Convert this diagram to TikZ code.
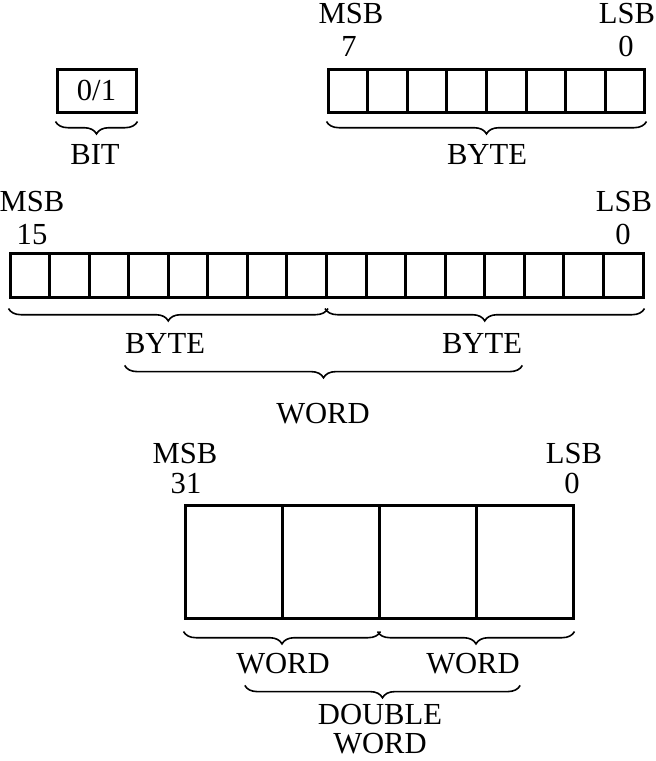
\documentclass[tikz,border=0pt]{standalone}
\usepackage{fontspec}
\setmainfont{Liberation Serif}
\usetikzlibrary{decorations.pathreplacing,calc}

\tikzset{
    regcell/.style={draw, line width=1.5pt, inner sep=0pt},
    brc/.style={decorate, decoration={brace, mirror, amplitude=6.2pt}, line width=0.8pt},
    lbl/.style={inner sep=0pt, text height=10pt, text depth=0pt, font=\fontsize{15.3}{15}\selectfont}
}

\begin{document}
\begin{tikzpicture}[x=0.5pt,y=-0.5pt]
    \useasboundingbox (0,0) rectangle (655,761);

    % bit
    \node[regcell, minimum width=39.5pt, minimum height=21.5pt] (bit) at (96.5,90.5) {};
    \node[lbl] (bitval) at (bit.center) {0/1};
    \draw[brc] ([yshift=-4pt]bit.south west) -- ([yshift=-4pt]bit.south east);
    \node[lbl] (bitlbl) at (95,154) {BIT};

    % byte
    \foreach \i in {0,...,7}
        \node[regcell, minimum width=19.8pt, minimum height=21.5pt] (b\i) at ({328+39.625*(\i+0.5)},90.5) {};
    \node[lbl] (bmsb) at (351,13) {MSB};
    \node[lbl] (bhi) at (349,46) {7};
    \node[lbl] (blsb) at (627,13) {LSB};
    \node[lbl] (blo) at (626,46) {0};
    \draw[brc] ([yshift=-4pt]b0.south west) -- ([yshift=-4pt]b7.south east);
    \node[lbl] (bytelbl) at (487,154) {BYTE};

    % word
    \foreach \i in {0,...,15}
        \node[regcell, minimum width=19.78pt, minimum height=22pt] (w\i) at ({10+39.5625*(\i+0.5)},275) {};
    \node[lbl] (wmsb) at (32,201) {MSB};
    \node[lbl] (whi) at (32,234) {15};
    \node[lbl] (wlsb) at (624,201) {LSB};
    \node[lbl] (wlo) at (623,234) {0};
    \draw[brc] ([yshift=-5pt]w0.south west) -- ([yshift=-5pt]w7.south east);
    \draw[brc] ([yshift=-5pt]w8.south west) -- ([yshift=-5pt]w15.south east);
    \node[lbl] (wbyteL) at (165,343) {BYTE};
    \node[lbl] (wbyteR) at (482,343) {BYTE};
    \draw[brc] ([yshift=-6pt]wbyteL.south west) -- ([yshift=-6pt]wbyteR.south east);
    \node[lbl] (wordlbl) at (323,413) {WORD};

    % double word
    \foreach \i in {0,...,3}
        \node[regcell, minimum width=48.5pt, minimum height=56.5pt] (d\i) at ({185+97*(\i+0.5)},561.5) {};
    \node[lbl] (dmsb) at (185,453) {MSB};
    \node[lbl] (dhi) at (186,483) {31};
    \node[lbl] (dlsb) at (574,453) {LSB};
    \node[lbl] (dlo) at (572,483) {0};
    \draw[brc] ([yshift=-6pt]d0.south west) -- ([yshift=-6pt]d1.south east);
    \draw[brc] ([yshift=-6pt]d2.south west) -- ([yshift=-6pt]d3.south east);
    \node[lbl] (dwordL) at (283,663) {WORD};
    \node[lbl] (dwordR) at (473,663) {WORD};
    \draw[brc] ([xshift=4.5pt,yshift=-6pt]dwordL.south west) -- ([yshift=-6pt]dwordR.south east);
    \node[inner sep=0pt, align=center, font=\fontsize{15.3}{14.3}\selectfont] (dwordlbl) at (380,729) {DOUBLE\\WORD};
\end{tikzpicture}
\end{document}
